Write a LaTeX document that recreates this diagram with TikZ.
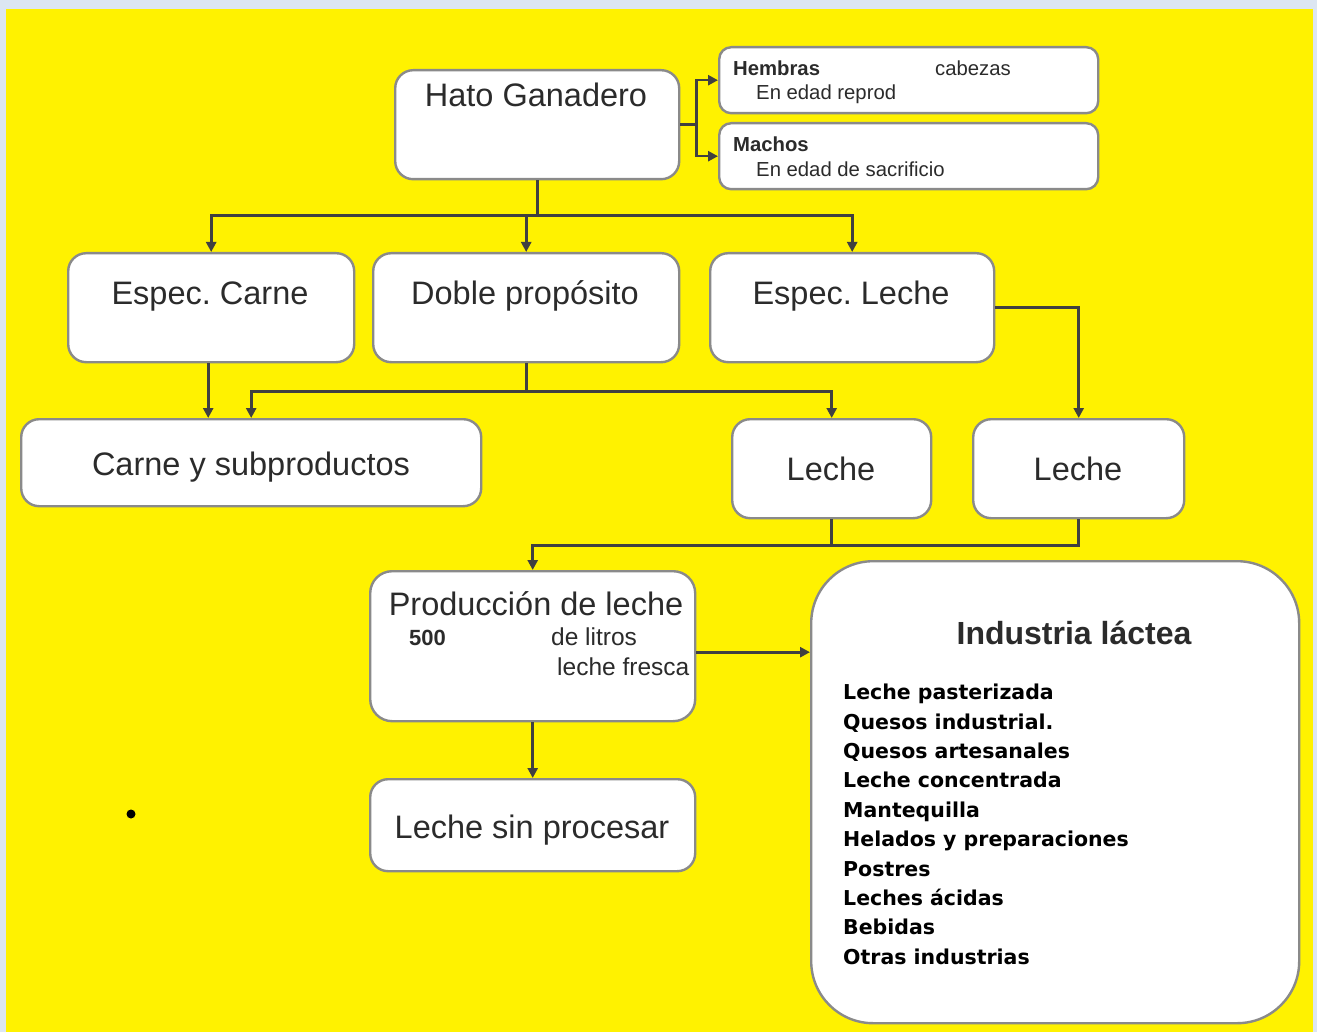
\documentclass[tikz,border=0pt]{standalone}
\usepackage{fontspec}
\setmainfont{Liberation Sans}
\newfontfamily\listfont{DejaVu Sans}
\usetikzlibrary{arrows.meta,calc}
\definecolor{pagebg}{HTML}{DCE6F2}
\definecolor{canvas}{HTML}{FFF200}
\definecolor{boxline}{HTML}{8A8A8A}
\definecolor{wire}{HTML}{404040}
\definecolor{ink}{HTML}{2B2B2B}
\frenchspacing
\begin{document}
\begin{tikzpicture}[x=1pt,y=-1pt,
  box/.style={draw=boxline,line width=2.4pt,fill=white,rounded corners=18pt,
    inner sep=0pt,anchor=north west},
  big/.style={font=\fontsize{32.5}{36}\selectfont,text=ink,inner sep=0pt,anchor=base},
  mid/.style={font=\fontsize{24.5}{28}\selectfont,text=ink,inner sep=0pt,anchor=base west},
  small/.style={font=\fontsize{20.3}{23}\selectfont,text=ink,inner sep=0pt,anchor=base west},
  smallbold/.style={small,font=\bfseries\fontsize{20.3}{23}\selectfont},
  wireline/.style={draw=wire,line width=2.6pt},
  arr/.style={wireline,-{Triangle[length=10pt,width=10pt]}}]
% page and canvas
\useasboundingbox (0,0) rectangle (1317,1032);
\fill[pagebg] (0,0) rectangle (1317,1032);
\fill[canvas] (6,9) rectangle (1313,1032);

% boxes
\node[box,minimum width=284pt,minimum height=109pt] (hato) at (394,69) {};
\node[box,minimum width=379pt,minimum height=66pt,rounded corners=12pt] (hembras) at (718,46) {};
\node[box,minimum width=379pt,minimum height=66pt,rounded corners=12pt] (machos) at (718,122) {};
\node[box,minimum width=286pt,minimum height=109pt] (ecarne) at (67,252) {};
\node[box,minimum width=306pt,minimum height=109pt] (doble) at (372,252) {};
\node[box,minimum width=284pt,minimum height=109pt] (eleche) at (709,252) {};
\node[box,minimum width=460pt,minimum height=87pt] (carne) at (20,418) {};
\node[box,minimum width=199pt,minimum height=99pt] (lecheA) at (731,418) {};
\node[box,minimum width=211pt,minimum height=99pt] (lecheB) at (972,418) {};
\node[box,minimum width=325pt,minimum height=150pt,rounded corners=22pt] (prod) at (369,570) {};
\node[box,minimum width=325pt,minimum height=92pt] (sinproc) at (369,778) {};
\node[box,minimum width=488pt,minimum height=462pt,rounded corners=62pt] (ind) at (810,560) {};

% box texts
\node[big] (thato) at (536,107) {Hato Ganadero};
\node[smallbold] (themb) at (733,76) {Hembras};
\node[small] (tcab) at (935,76) {cabezas};
\node[small] (trep) at (756,100) {En edad reprod};
\node[smallbold] (tmach) at (733,152) {Machos};
\node[small] (tsac) at (756,177) {En edad de sacrificio};
\node[big] (tecarne) at (210,305) {Espec. Carne};
\node[big] (tdoble) at (525,305) {Doble propósito};
\node[big] (teleche) at (851,305) {Espec. Leche};
\node[big] (tcarne) at (251,475) {Carne y subproductos};
\node[big] (tlecheA) at (831,480) {Leche};
\node[big] (tlecheB) at (1078,480) {Leche};
\node[big] (tprod) at (536,615) {Producción de leche};
\node[mid,font=\bfseries\fontsize{22}{26}\selectfont] (t500) at (409,645) {500};
\node[mid] (tlit) at (551,645) {de litros};
\node[mid] (tfres) at (557,675) {leche fresca};
\node[big] (tsin) at (532,838) {Leche sin procesar};
\node[big,font=\bfseries\fontsize{32}{36}\selectfont] (tind) at (1074,644) {Industria láctea};
\node[inner sep=0pt,anchor=north west,align=left,text=black,
  font=\listfont\bfseries\fontsize{20.5}{29.4}\selectfont] (tlist) at (843,684)
  {Leche pasterizada\\Quesos industrial.\\Quesos artesanales\\Leche concentrada\\Mantequilla\\Helados y preparaciones\\Postres\\Leches ácidas\\Bebidas\\Otras industrias};

% connectors
\draw[wireline] (hato.east) -- ++(16,0) coordinate (hsplit);
\draw[arr] (hsplit) |- (hembras.west);
\draw[arr] (hsplit) |- (machos.west);

\draw[wireline] (hato.south) -- ++(0,35) coordinate (hbus);
\draw[arr] (hbus) -| (ecarne.north);
\draw[arr] (hbus) -| (doble.north);
\draw[arr] (hbus) -| (eleche.north);

\draw[arr] ([xshift=-3pt]ecarne.south) -- ([xshift=-3pt]ecarne.south |- carne.north);
\draw[wireline] (doble.south) -- ++(0,28) coordinate (dbus);
\draw[arr] (dbus) -| (carne.north);
\draw[arr] (dbus) -| (lecheA.north);
\draw[arr] (eleche.east) -| (lecheB.north);

\draw[wireline] (lecheA.south) -- ++(0,26) coordinate (lbus);
\draw[wireline] (lecheB.south) |- (lbus);
\draw[arr] (lbus) -| (prod.north);

\draw[arr] ([yshift=-6pt]prod.east) -- ([yshift=-6pt]prod.east -| ind.west);
\draw[arr] (prod.south) -- (sinproc.north);

% stray dot
\fill[black] (131,814) circle (4.5);
\end{tikzpicture}
\end{document}
